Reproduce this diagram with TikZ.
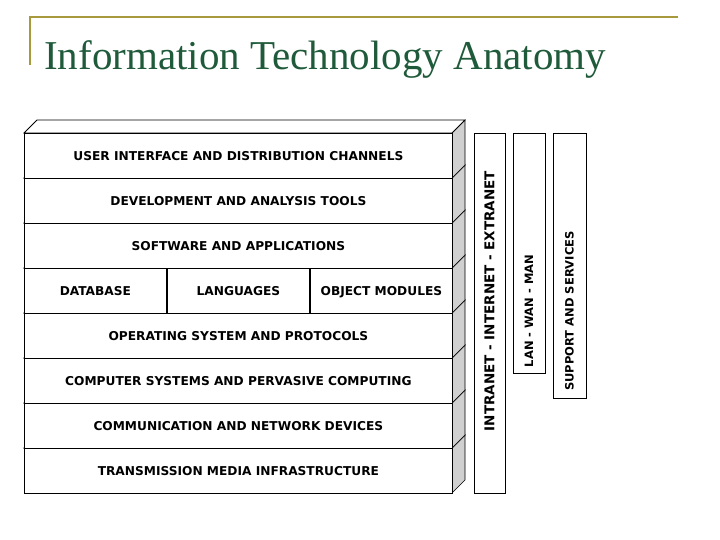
\documentclass[tikz,border=0pt]{standalone}
\usepackage{fontspec}
\setmainfont{Liberation Serif}
\newfontfamily\lab{DejaVu Sans}
\definecolor{olive}{HTML}{A89A3C}
\definecolor{tgreen}{HTML}{1F5A3A}
\definecolor{side}{HTML}{D0D0D0}
\begin{document}
\begin{tikzpicture}[x=1pt,y=-1pt,
  face/.style={draw=black,fill=white,line width=0.8pt},
  sideface/.style={draw=black,fill=side,line width=0.6pt},
  lbl/.style={font=\lab\bfseries\fontsize{12.2}{13}\selectfont,text height=9pt,text depth=0pt},
  vlbl/.style={font=\lab\bfseries\fontsize{11.5}{12}\selectfont,rotate=90}]
\useasboundingbox (0,0) rectangle (720,540);
\draw[olive,line width=1.5pt] (30,65) -- (30,17) -- (678,17);
\node[anchor=base west,text=tgreen,font=\fontsize{41}{44}\selectfont,inner sep=0] (title) at (44,70) {Information Technology Anatomy};
% layers bottom-up
\foreach \i in {7,6,...,0}{
  \pgfmathsetmacro\yt{133+45*\i}
  \draw[sideface] (452,\yt) -- (465,\yt-13) -- (465,\yt+32) -- (452,\yt+45) -- cycle;
  \draw[face] (24,\yt) -- (37,\yt-13) -- (465,\yt-13) -- (452,\yt) -- cycle;
}
\node[face,minimum width=428,minimum height=45,anchor=north west,lbl] (l1) at (24,133) {USER INTERFACE AND DISTRIBUTION CHANNELS};
\node[face,minimum width=428,minimum height=45,anchor=north west,lbl] (l2) at (24,178) {DEVELOPMENT AND ANALYSIS TOOLS};
\node[face,minimum width=428,minimum height=45,anchor=north west,lbl] (l3) at (24,223) {SOFTWARE AND APPLICATIONS};
\node[face,minimum width=142,minimum height=45,anchor=north west,lbl] (db) at (24,268) {DATABASE};
\node[face,minimum width=142,minimum height=45,anchor=north west,lbl] (lang) at (167,268) {LANGUAGES};
\node[face,minimum width=142,minimum height=45,anchor=north west,lbl,inner xsep=1pt] (obj) at (310,268) {OBJECT MODULES};
\node[face,minimum width=428,minimum height=45,anchor=north west,lbl] (l5) at (24,313) {OPERATING SYSTEM AND PROTOCOLS};
\node[face,minimum width=428,minimum height=45,anchor=north west,lbl] (l6) at (24,358) {COMPUTER SYSTEMS AND PERVASIVE COMPUTING};
\node[face,minimum width=428,minimum height=45,anchor=north west,lbl] (l7) at (24,403) {COMMUNICATION AND NETWORK DEVICES};
\node[face,minimum width=428,minimum height=45,anchor=north west,lbl] (l8) at (24,448) {TRANSMISSION MEDIA INFRASTRUCTURE};
% vertical bars
\draw[face] (474,133) rectangle (505,493);
\node[vlbl,font=\lab\bfseries\fontsize{13.5}{14}\selectfont] (b1) at (489.5,301) {INTRANET - INTERNET - EXTRANET};
\draw[face] (513,133) rectangle (545,373);
\node[vlbl] (b2) at (529,311) {LAN - WAN - MAN};
\draw[face] (553,133) rectangle (586,398);
\node[vlbl] (b3) at (569.5,311) {SUPPORT AND SERVICES};
\end{tikzpicture}
\end{document}
